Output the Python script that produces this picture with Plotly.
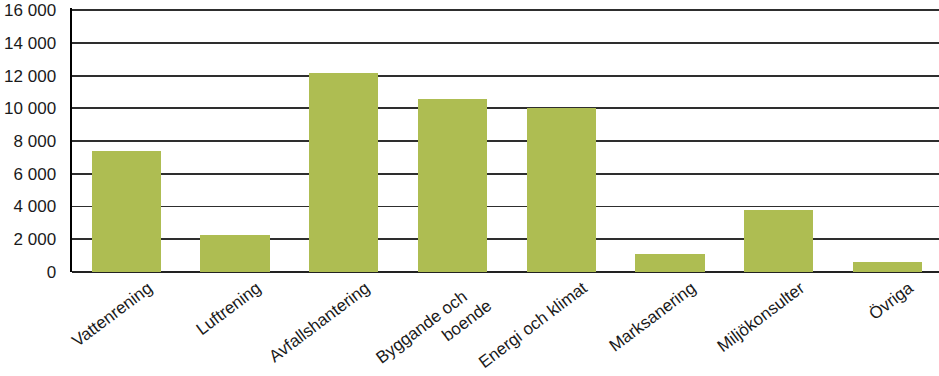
import plotly.graph_objects as go

categories = ["Vattenrening", "Luftrening", "Avfallshantering", "Byggande och\u00a0\u00a0\u00a0<br>boende",
              "Energi och klimat", "Marksanering", "Miljökonsulter", "Övriga"]
values = [7370, 2280, 12140, 10550, 10020, 1130, 3760, 640]
y_ticks = [0, 2000, 4000, 6000, 8000, 10000, 12000, 14000, 16000]
y_ticklabels = ["0", "2 000", "4 000", "6 000", "8 000", "10 000", "12 000", "14 000", "16 000"]

FONT = "Liberation Sans, Arial, Helvetica, sans-serif"

fig = go.Figure()
fig.add_trace(go.Bar(
    x=list(range(len(categories))),
    y=values,
    marker=dict(color="#AEBD52", line=dict(width=0)),
    width=0.6375,
    hoverinfo="skip",
))

fig.update_layout(
    width=939, height=376,
    margin=dict(l=72, r=0, t=8, b=104),
    paper_bgcolor="white", plot_bgcolor="white",
    showlegend=False,
    font=dict(family=FONT, size=17, color="#1a1a1a"),
    bargap=0,
)
fig.update_xaxes(
    automargin=False,
    range=[-0.5, 7.476],
    tickmode="array",
    tickvals=list(range(len(categories))),
    ticktext=categories,
    tickangle=-37,
    ticks="",
    showgrid=False,
    showline=False,
    zeroline=False,
    ticklabelshift=22,
    ticklabelstandoff=2,
    tickfont=dict(family=FONT, size=17, color="#1a1a1a"),
)
fig.update_yaxes(
    automargin=False,
    range=[0, 16130],
    tickmode="array",
    tickvals=y_ticks,
    ticktext=y_ticklabels,
    showgrid=True,
    gridcolor="#2e2e2e",
    gridwidth=1.8,
    showline=True,
    linecolor="black",
    linewidth=2.5,
    zeroline=True,
    zerolinecolor="#222",
    zerolinewidth=1.8,
    ticks="",
    ticklabelstandoff=10,
    tickfont=dict(family=FONT, size=17, color="#1a1a1a"),
)

fig.write_html(
    "out.html",
    config={"displayModeBar": False, "staticPlot": True},
    post_script="document.body.style.margin='0';document.body.style.overflow='hidden';",
)
